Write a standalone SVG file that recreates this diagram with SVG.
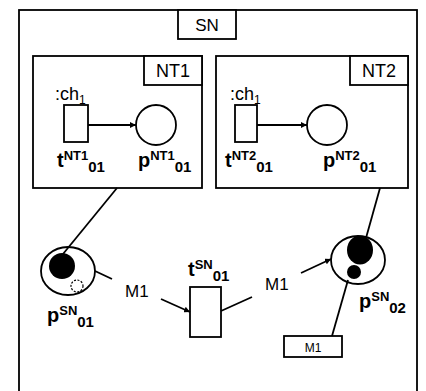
<svg xmlns="http://www.w3.org/2000/svg" width="426" height="391" viewBox="0 0 426 391">
<defs>
<marker id="ah" viewBox="0 0 10 10" refX="10" refY="5" markerWidth="6" markerHeight="6" markerUnits="userSpaceOnUse" orient="auto"><path d="M0,0 L10,5 L0,10 z" fill="#000"/></marker>
<style>
.ln{stroke:#000;stroke-width:1.8;fill:none}
.bx{stroke:#000;stroke-width:1.8;fill:#fff}
.t{font-family:"Liberation Sans",Arial,sans-serif;fill:#000}
.lb{font-family:"Liberation Sans",Arial,sans-serif;font-weight:bold;fill:#000}
</style>
</defs>
<rect width="426" height="391" fill="#fff"/>
<g id="SN">
<rect x="19" y="10" width="398" height="400" class="ln"/>
<rect x="178" y="10" width="58" height="29" class="bx"/>
<text x="207" y="31" class="t" font-size="17" text-anchor="middle">SN</text>
</g>
<g id="NT1">
<rect x="33" y="56" width="169" height="132" class="ln"/>
<rect x="144" y="56" width="58" height="29" class="bx"/>
<text x="173" y="77" class="t" font-size="18" text-anchor="middle">NT1</text>
</g>
<g id="NT2">
<rect x="216" y="56" width="192" height="132" class="ln"/>
<rect x="350" y="56" width="58" height="29" class="bx"/>
<text x="379" y="77" class="t" font-size="18" text-anchor="middle">NT2</text>
</g>
<g id="tNT1">
<text x="55" y="100" class="t" font-size="18">:ch<tspan font-size="12" dy="4">1</tspan></text>
<rect x="64" y="105" width="24" height="37" class="ln"/>
<text x="57" y="167" class="lb" font-size="20">t<tspan font-size="13" dy="-7">NT1</tspan><tspan font-size="15" dy="12">01</tspan></text>
</g>
<g id="pNT1">
<circle cx="156" cy="125" r="20" class="ln"/>
<text x="138" y="167" class="lb" font-size="20">p<tspan font-size="13" dy="-7">NT1</tspan><tspan font-size="15" dy="12">01</tspan></text>
</g>
<g id="tNT2">
<text x="230" y="100" class="t" font-size="18">:ch<tspan font-size="12" dy="4">1</tspan></text>
<rect x="235" y="105" width="22" height="37" class="ln"/>
<text x="225" y="167" class="lb" font-size="20">t<tspan font-size="13" dy="-7">NT2</tspan><tspan font-size="15" dy="12">01</tspan></text>
</g>
<g id="pNT2">
<circle cx="327" cy="125" r="20" class="ln"/>
<text x="323" y="167" class="lb" font-size="20">p<tspan font-size="13" dy="-7">NT2</tspan><tspan font-size="15" dy="12">01</tspan></text>
</g>
<g id="pSN01">
<ellipse cx="68" cy="271" rx="27" ry="24" class="ln"/>
<circle cx="62" cy="266" r="13" fill="#000"/>
<circle cx="77" cy="286" r="6" fill="none" stroke="#000" stroke-width="1.2" stroke-dasharray="2,1.5"/>
<text x="47" y="322" class="lb" font-size="20">p<tspan font-size="13" dy="-7">SN</tspan><tspan font-size="15" dy="12">01</tspan></text>
</g>
<g id="tSN01">
<rect x="190" y="287" width="31" height="50" class="ln"/>
<text x="188" y="276" class="lb" font-size="20">t<tspan font-size="13" dy="-7">SN</tspan><tspan font-size="15" dy="12">01</tspan></text>
</g>
<g id="pSN02">
<ellipse cx="358" cy="260" rx="27" ry="24" class="ln"/>
<ellipse cx="360" cy="250" rx="13" ry="14.5" fill="#000"/>
<circle cx="354" cy="272" r="7" fill="#000"/>
<text x="359" y="308" class="lb" font-size="20">p<tspan font-size="13" dy="-7">SN</tspan><tspan font-size="15" dy="12">02</tspan></text>
</g>
<g id="M1box">
<rect x="284" y="336" width="58" height="21" class="ln"/>
<text x="313" y="352" class="t" font-size="12" text-anchor="middle">M1</text>
</g>
<g id="connectors">
<line x1="88" y1="125" x2="136" y2="125" class="ln" stroke-width="1.3" marker-end="url(#ah)"/>
<line x1="257" y1="125" x2="307" y2="125" class="ln" stroke-width="1.3" marker-end="url(#ah)"/>
<line x1="117" y1="188" x2="63" y2="254" class="ln"/>
<line x1="380" y1="188" x2="366" y2="238" class="ln"/>
<line x1="95" y1="271" x2="112" y2="279" class="ln"/>
<line x1="161" y1="299" x2="190" y2="312" class="ln" marker-end="url(#ah)"/>
<line x1="221" y1="311" x2="252" y2="297" class="ln"/>
<line x1="301" y1="273" x2="331" y2="259" class="ln" marker-end="url(#ah)"/>
<line x1="348" y1="280" x2="332" y2="336" class="ln"/>
<text x="125" y="297" class="t" font-size="17">M1</text>
<text x="265" y="290" class="t" font-size="17">M1</text>
</g>
</svg>
